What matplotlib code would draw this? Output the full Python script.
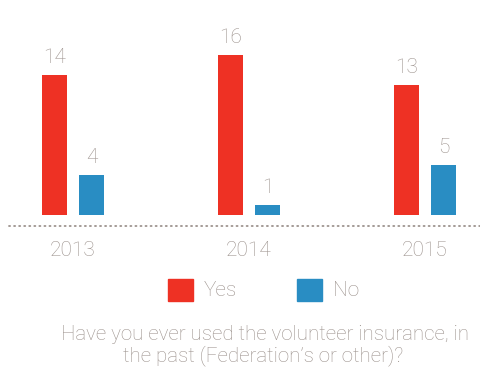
import matplotlib
matplotlib.use("Agg")
import matplotlib.pyplot as plt
from matplotlib.patches import Rectangle

years = ["2013", "2014", "2015"]
yes_counts = [14, 16, 13]
no_counts = [4, 1, 5]
series_names = ["Yes", "No"]
question = ["Have you ever used the volunteer insurance, in",
            "the past (Federation\u2019s or other)?"]

RED = "#EE3124"
BLUE = "#298DC3"
GREY = "#9C928D"

plt.rcParams["font.family"] = ["Roboto", "DejaVu Sans"]
plt.rcParams["font.weight"] = "light"

W, H = 481, 372
fig = plt.figure(figsize=(W / 100, H / 100), dpi=100)
ax = fig.add_axes([0, 0, 1, 1])

# one unit = 10 px, baseline 215 px from the top, groups 176 px apart
base = H - 215
ax.set_ylim(-base / 10, (H - base) / 10)
ax.set_xlim(-73 / 176, (W - 73) / 176)
ax.axis("off")

x = list(range(len(years)))
width = 25 / 176
off = 18.5 / 176

bars_yes = ax.bar([i - off for i in x], yes_counts, width, color=RED)
bars_no = ax.bar([i + off for i in x], no_counts, width, color=BLUE)

for bars, vals in ((bars_yes, yes_counts), (bars_no, no_counts)):
    for b, v in zip(bars, vals):
        ax.annotate(str(v), (b.get_x() + b.get_width() / 2, v),
                    xytext=(0, 8), textcoords="offset pixels",
                    ha="center", va="bottom", fontsize=15, color=GREY)

# dotted baseline under the bars
ax.plot([9 / 176 - 73 / 176, (W - 73) / 176], [-1.1, -1.1],
        linestyle=(0, (0.6, 2.2)), color=GREY, linewidth=1.3,
        solid_capstyle="butt", dash_capstyle="round")

for i, yr in zip(x, years):
    ax.text(i, -3.6, yr, ha="center", va="center", fontsize=15, color=GREY)

# legend drawn by hand
def px(xp, yp):
    return xp / W, 1 - yp / H

for name, col, x0 in zip(series_names, [RED, BLUE], [168, 297]):
    fig.patches.append(Rectangle(px(x0, 301), 25 / W, 22 / H,
                                 transform=fig.transFigure, color=col))
    fig.text(*px(x0 + 36, 290), name, ha="left", va="center",
             fontsize=15, color=GREY)

fig.text(*px(265, 334), question[0], ha="center", va="center",
         fontsize=14.8, color=GREY)
fig.text(*px(263, 356), question[1], ha="center", va="center",
         fontsize=14.8, color=GREY)

fig.savefig("out.png", dpi=100)
